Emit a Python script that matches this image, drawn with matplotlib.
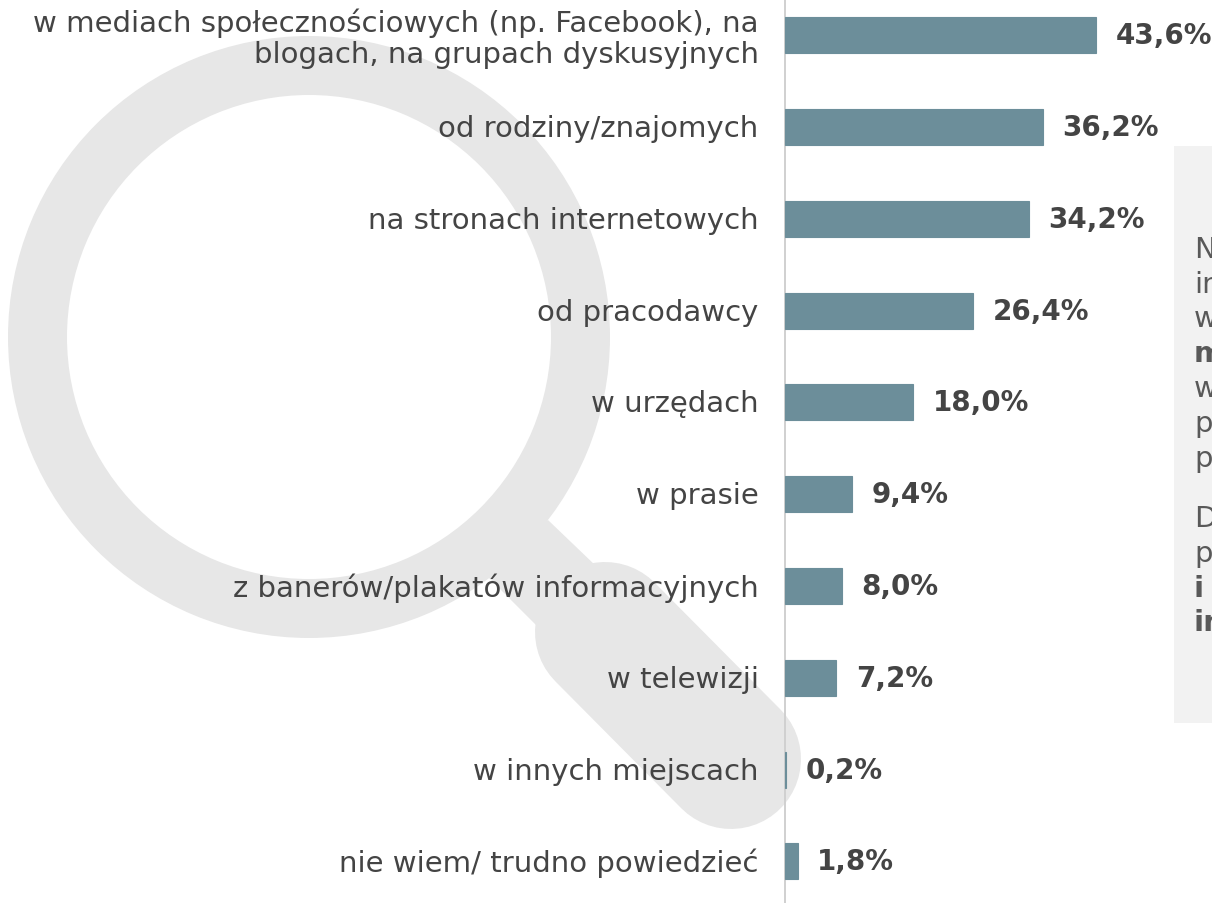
import matplotlib
matplotlib.use('Agg')
import matplotlib.pyplot as plt
from matplotlib.patches import Annulus, Polygon, Rectangle
from matplotlib.transforms import ScaledTranslation

categories = ['w mediach społecznościowych (np. Facebook), na\nblogach, na grupach dyskusyjnych',
              'od rodziny/znajomych',
              'na stronach internetowych',
              'od pracodawcy',
              'w urzędach',
              'w prasie',
              'z banerów/plakatów informacyjnych',
              'w telewizji',
              'w innych miejscach',
              'nie wiem/ trudno powiedzieć']
values = [43.6, 36.2, 34.2, 26.4, 18.0, 9.4, 8.0, 7.2, 0.2, 1.8]

# text in the side panel is cut by the picture edge, only the start of each line shows
panel_lines = ['N', 'in', 'w', 'm', 'w', 'p', 'p', 'D', 'p', 'i r', 'in']
panel_bold = [False, False, False, True, False, False, False, False, False, True, True]
panel_y = [250, 285, 319, 354, 389, 424, 459, 519, 554, 589, 623]

W, H = 1212, 904
text_color = '#444444'
plt.rcParams['font.family'] = ['DejaVu Sans']

fig = plt.figure(figsize=(W / 100, H / 100), dpi=100)

# background in pixel coordinates: magnifying glass and grey panel
bg = fig.add_axes([0, 0, 1, 1])
bg.set_xlim(0, W)
bg.set_ylim(H, 0)
bg.axis('off')
glass = '#E7E7E7'
bg.add_patch(Annulus((309, 338), 301, 59, color=glass, lw=0))
bg.add_patch(Polygon([(548, 521), (620, 590), (560, 650), (480, 570)], color=glass, lw=0))
bg.plot([605, 731], [633, 760], color=glass, lw=140 * 0.72, solid_capstyle='round')
bg.add_patch(Rectangle((1174, 147), 38, 577, color='#F2F2F2', lw=0))
for s, b, y in zip(panel_lines, panel_bold, panel_y):
    bg.text(1194, y, s, fontsize=21, color='#595959', va='center', ha='left',
            fontweight='bold' if b else 'normal')

# the bars, thin edge so the 0,2% bar stays visible next to the axis line
ax = fig.add_axes([785 / W, 0, (W - 785) / W, 1])
ax.patch.set_alpha(0)
ax.barh(range(len(values)), values, height=36 / 91.8, color='#6C8E9A',
        edgecolor='#6C8E9A', linewidth=0.8, zorder=3, clip_on=False)
ax.set_xlim(0, (W - 785) / 7.13)
ax.set_ylim((H - 36.2) / 91.8, -36.2 / 91.8)
ax.set_xticks([])
ax.set_yticks(range(len(categories)))
ax.set_yticklabels(categories, fontsize=21, color=text_color, linespacing=1.13)
ax.tick_params(axis='y', length=0, pad=19)
# labels sit about 2 px higher than the default centring
for label in ax.get_yticklabels():
    label.set_transform(label.get_transform() + ScaledTranslation(0, 2 / 100, fig.dpi_scale_trans))
for side in ['top', 'right', 'bottom']:
    ax.spines[side].set_visible(False)
ax.spines['left'].set_color('#D0D0D0')
ax.spines['left'].set_linewidth(1.4)

for i, v in enumerate(values):
    ax.annotate(f'{v:.1f}%'.replace('.', ','), (v, i), xytext=(14, 0), textcoords='offset points',
                va='center', ha='left', fontsize=20, fontweight='bold', color=text_color)

fig.savefig('out.png', dpi=100)
